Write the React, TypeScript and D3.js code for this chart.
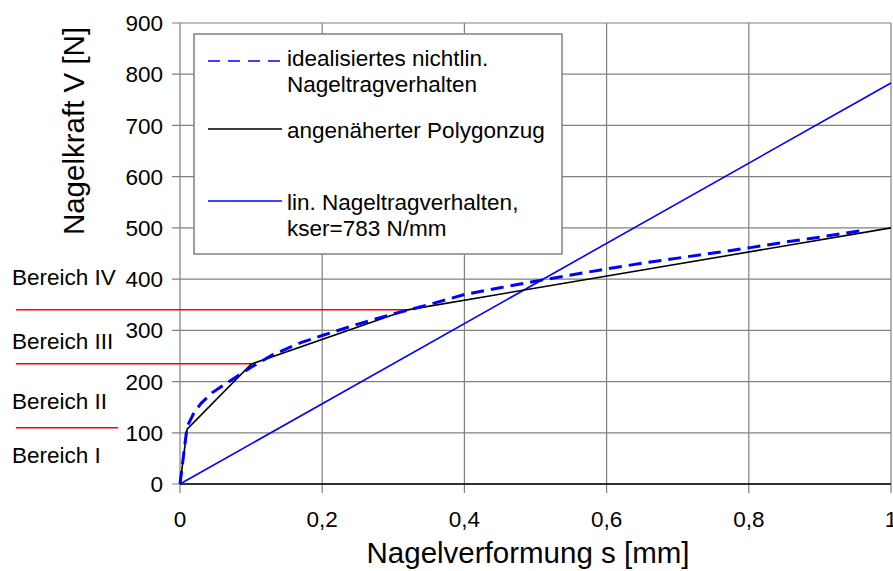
import React from "react";
import * as d3 from "d3";

const xTicks = [0, 0.2, 0.4, 0.6, 0.8, 1];
const xTickLabels = ["0", "0,2", "0,4", "0,6", "0,8", "1"];
const yTicks = [0, 100, 200, 300, 400, 500, 600, 700, 800, 900];

const idealS = [0, 0.01, 0.02, 0.03, 0.045, 0.06, 0.08, 0.1, 0.13, 0.17, 0.2, 0.25, 0.3, 0.35, 0.4, 0.45, 0.5, 0.55, 0.6, 0.65, 0.7, 0.75, 0.8, 0.85, 0.9, 0.96];
const idealV = [0, 112, 140, 158, 178, 192, 210, 228, 252, 276, 290, 312, 332, 350, 370, 383, 396, 408, 420, 431, 441, 451, 461, 472, 482, 495];

const polyS = [0, 0.01, 0.1, 0.32, 1.0];
const polyV = [0, 107, 234, 340, 500];

const linS = [0, 1];
const linV = [0, 783];

const bereichLevels = [340, 235, 110];
const bereichEnds = [0.322, 0.1, -0.087];
const bereichLabels = ["Bereich IV", "Bereich III", "Bereich II", "Bereich I"];
const bereichLabelV = [404, 279, 163, 56];

const W = 893, H = 571;
const x0 = 180, x1 = 891, yTop = 23, yBot = 484;

export default function App() {
  const x = d3.scaleLinear().domain([0, 1]).range([x0, x1]);
  const y = d3.scaleLinear().domain([0, 900]).range([yBot, yTop]);
  const line = d3.line<[number, number]>().x(d => x(d[0])).y(d => y(d[1]));
  const ideal = idealS.map((s, i) => [s, idealV[i]] as [number, number]);
  const poly = polyS.map((s, i) => [s, polyV[i]] as [number, number]);
  const lin = linS.map((s, i) => [s, linV[i]] as [number, number]);
  const font = "'Liberation Sans', Arial, sans-serif";
  const grid = "#808080";
  const fs = 22.5;

  return (
    <svg width={W} height={H} style={{ position: "absolute", left: 0, top: 0, background: "#fff" }} fontFamily={font}>
      <rect x={0} y={0} width={W} height={H} fill="#fff" />
      {/* grid */}
      {yTicks.map(t => (
        <line key={"gy" + t} x1={x0 - 8} x2={x1} y1={y(t)} y2={y(t)} stroke={grid} strokeWidth={1.2} />
      ))}
      {xTicks.map(t => (
        <line key={"gx" + t} x1={x(t)} x2={x(t)} y1={yTop} y2={yBot + 9} stroke={grid} strokeWidth={1.2} />
      ))}
      <line x1={x0} x2={x1} y1={yBot} y2={yBot} stroke="#000" strokeWidth={1.5} />
      {/* tick labels */}
      {yTicks.map(t => (
        <text key={"ty" + t} x={163} y={y(t)} dy="0.36em" textAnchor="end" fontSize={fs} fill="#000">{t}</text>
      ))}
      {xTicks.map((t, i) => (
        <text key={"tx" + t} x={x(t)} y={519} dy="0.36em" textAnchor="middle" fontSize={fs} fill="#000">{xTickLabels[i]}</text>
      ))}
      {/* axis titles */}
      <text x={528} y={552} dy="0.36em" textAnchor="middle" fontSize={29.5} fill="#000">Nagelverformung s [mm]</text>
      <text transform={`translate(73,131) rotate(-90)`} dy="0.36em" textAnchor="middle" fontSize={29.5} fill="#000">Nagelkraft V [N]</text>
      {/* bereich lines */}
      {bereichLevels.map((v, i) => (
        <line key={"b" + i} x1={16} x2={x(bereichEnds[i])} y1={y(v)} y2={y(v)} stroke="#ff0000" strokeWidth={1.5} />
      ))}
      {bereichLabels.map((l, i) => (
        <text key={"bl" + i} x={12} y={y(bereichLabelV[i])} dy="0.36em" fontSize={fs} fill="#000">{l}</text>
      ))}
      {/* series */}
      <path d={line(lin) || ""} fill="none" stroke="#0000ff" strokeWidth={1.6} />
      <path d={line(poly) || ""} fill="none" stroke="#000" strokeWidth={1.6} />
      <path d={line(ideal) || ""} fill="none" stroke="#0000ff" strokeWidth={3} strokeDasharray="13,7" />
      {/* legend */}
      <rect x={194} y={34} width={368} height={220} fill="#fff" stroke={grid} strokeWidth={1.5} />
      <line x1={208} x2={282} y1={61} y2={61} stroke="#0000ff" strokeWidth={1.6} strokeDasharray="12,8" />
      <text x={287} y={58} dy="0.36em" fontSize={fs} fill="#000">idealisiertes nichtlin.</text>
      <text x={287} y={84} dy="0.36em" fontSize={fs} fill="#000">Nageltragverhalten</text>
      <line x1={208} x2={282} y1={129} y2={129} stroke="#000" strokeWidth={1.6} />
      <text x={287} y={130} dy="0.36em" fontSize={fs} fill="#000">angenäherter Polygonzug</text>
      <line x1={208} x2={282} y1={201} y2={201} stroke="#0000ff" strokeWidth={1.6} />
      <text x={287} y={202} dy="0.36em" fontSize={fs} fill="#000">lin. Nageltragverhalten,</text>
      <text x={287} y={228} dy="0.36em" fontSize={fs} fill="#000">kser=783 N/mm</text>
    </svg>
  );
}
